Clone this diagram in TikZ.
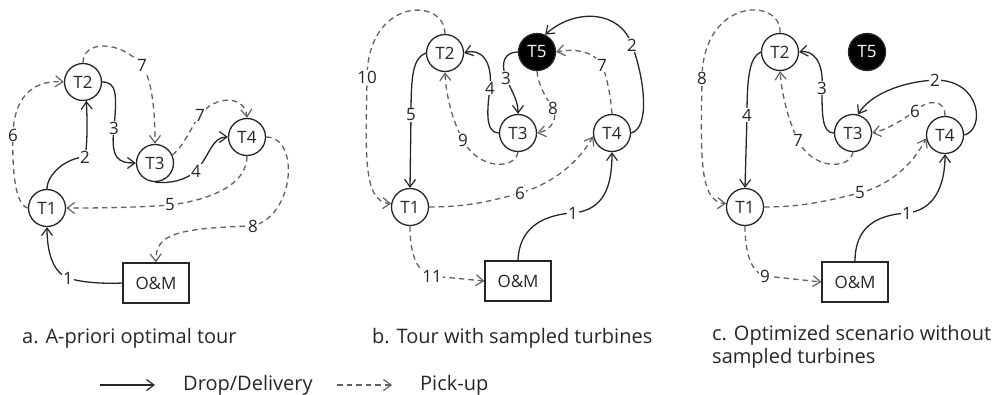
\documentclass[tikz,border=0pt]{standalone}
\usepackage{fontspec}
\setmainfont{Open Sans}
\usetikzlibrary{arrows.meta}
\begin{document}
\begin{tikzpicture}[x=1pt,y=-1pt,
  tn/.style={circle,draw=black!85,line width=1.3pt,minimum size=37pt,inner sep=0pt,font=\fontsize{17}{19}\selectfont,text=black!85},
  tb/.style={tn,fill=black,text=white},
  om/.style={draw=black!85,line width=1.3pt,minimum width=66pt,minimum height=40pt,inner sep=0pt,font=\fontsize{17}{19}\selectfont,text=black!85},
  lb/.style={fill=white,inner sep=1pt,font=\fontsize{17}{19}\selectfont,text=black!85},
  captxt/.style={anchor=base west,inner sep=0pt,font=\fontsize{20}{24}\selectfont,text=black!85},
  tip/.style={-{Straight Barb[length=7.5pt,width=11pt,line width=1.2pt]}},
  sa/.style={draw=black!85,line width=1.3pt,tip},
  da/.style={draw=black!62,line width=1.3pt,dash pattern=on 5.5pt off 4pt,tip}
]
\useasboundingbox (0,0) rectangle (995,394);
% ---------- panel a ----------
\node[tn] (a1) at (47,208) {T1};
\node[tn] (a2) at (83,82) {T2};
\node[tn] (a3) at (155,163) {T3};
\node[tn] (a4) at (247,137) {T4};
\node[om] (aom) at (156,283) {O\&M};
\draw[sa] (aom.west) .. controls (100,284) and (80,282) .. (68,278) node[lb]{1} .. controls (52,272) and (47,250) .. (a1.south);
\draw[sa] (a1.north) .. controls (47,175) and (65,158) .. (85,157) node[lb]{2} .. controls (88,140) and (87,115) .. (a2.-80);
\draw[sa] (a2.east) .. controls (117,82) and (117,95) .. (114,128) node[lb]{3} .. controls (110,160) and (120,163) .. (a3.west);
\draw[sa] (a3.south) .. controls (170,184) and (186,180) .. (196,171) node[lb]{4} .. controls (210,155) and (212,137) .. (a4.west);
\draw[da] (a4.south) .. controls (247,185) and (210,200) .. (170,205) node[lb]{5} .. controls (130,208) and (90,208) .. (a1.east);
\draw[da] (a1.west) .. controls (15,205) and (12,170) .. (13,135) node[lb]{6} .. controls (14,90) and (40,80) .. (a2.west);
\draw[da] (a2.north) .. controls (83,40) and (120,40) .. (142,65) node[lb]{7} .. controls (152,80) and (155,110) .. (a3.north);
\draw[da] (a3.25) .. controls (185,145) and (192,125) .. (200,115) node[lb]{7} .. controls (215,95) and (245,95) .. (a4.north);
\draw[da] (a4.east) .. controls (300,137) and (295,215) .. (253,226) node[lb]{8} .. controls (175,228) and (155,235) .. (aom.north);
% ---------- panel b ----------
\node[tn] (b1) at (410,207) {T1};
\node[tn] (b2) at (445,53) {T2};
\node[tb] (b5) at (537,52) {T5};
\node[tn] (b3) at (518,133) {T3};
\node[tn] (b4) at (612,133) {T4};
\node[om] (bom) at (518,281) {O\&M};
\draw[sa] (bom.north) .. controls (519,230) and (540,215) .. (573,213) node[lb]{1} .. controls (605,210) and (612,185) .. (b4.south);
\draw[sa] (b4.east) .. controls (650,128) and (645,80) .. (632,45) node[lb]{2} .. controls (620,10) and (575,8) .. (b5.65);
\draw[sa] (b5.west) .. controls (505,52) and (500,62) .. (506,78) node[lb]{3} .. controls (512,92) and (518,100) .. (b3.north);
\draw[sa] (b3.west) .. controls (485,133) and (487,110) .. (490,88) node[lb]{4} .. controls (493,60) and (480,48) .. (b2.east);
\draw[sa] (b2.west) .. controls (413,58) and (411,75) .. (411,115) node[lb]{5} -- (b1.north);
\draw[da] (b1.east) .. controls (470,207) and (495,200) .. (520,193) node[lb]{6} .. controls (555,183) and (580,160) .. (b4.190);
\draw[da] (b4.north) .. controls (611,100) and (608,80) .. (602,65) node[lb]{7} .. controls (595,52) and (575,48) .. (b5.east);
\draw[da] (b5.south) .. controls (538,85) and (546,98) .. (553,108) node[lb]{8} .. controls (558,118) and (552,130) .. (b3.east);
\draw[da] (b3.south) .. controls (515,170) and (478,170) .. (463,140) node[lb]{9} .. controls (452,120) and (446,95) .. (b2.south);
\draw[da] (b2.north) .. controls (445,-3) and (368,-3) .. (367,77) node[lb]{10} .. controls (366,150) and (362,202) .. (b1.170);
\draw[da] (b1.south) .. controls (410,250) and (415,272) .. (432,276) node[lb]{11} -- (bom.west);
% ---------- panel c ----------
\node[tn] (c1) at (745,207) {T1};
\node[tn] (c2) at (780,52) {T2};
\node[tb] (c5) at (867,52) {T5};
\node[tn] (c3) at (853,133) {T3};
\node[tn] (c4) at (945,135) {T4};
\node[om] (com) at (855,282) {O\&M};
\draw[sa] (com.north) .. controls (855,228) and (875,215) .. (907,213) node[lb]{1} .. controls (935,210) and (945,185) .. (c4.south);
\draw[sa] (c4.east) .. controls (985,130) and (982,80) .. (935,80) node[lb]{2} .. controls (900,82) and (870,95) .. (c3.75);
\draw[sa] (c3.west) .. controls (822,133) and (822,115) .. (822,88) node[lb]{3} .. controls (824,60) and (812,50) .. (c2.east);
\draw[sa] (c2.west) .. controls (750,57) and (747,75) .. (747,115) node[lb]{4} -- (c1.north);
\draw[da] (c1.east) .. controls (805,207) and (830,200) .. (860,193) node[lb]{5} .. controls (895,183) and (915,160) .. (c4.190);
\draw[da] (c4.north) .. controls (945,100) and (930,98) .. (915,111) node[lb]{6} .. controls (900,122) and (885,130) .. (c3.east);
\draw[da] (c3.south) .. controls (850,170) and (812,170) .. (798,140) node[lb]{7} .. controls (788,120) and (782,95) .. (c2.south);
\draw[da] (c2.north) .. controls (782,-3) and (703,-3) .. (702,78) node[lb]{8} .. controls (701,150) and (698,202) .. (c1.170);
\draw[da] (c1.south) .. controls (745,250) and (750,272) .. (765,276) node[lb]{9} -- (com.west);
% ---------- captions ----------
\node[captxt] (capa) at (22,343) {a. A-priori optimal tour};
\node[captxt] (capb) at (372,343) {b. Tour with sampled turbines};
\node[captxt] (capc1) at (712,340) {c. Optimized scenario without};
\node[captxt] (capc2) at (712,363) {sampled turbines};
% ---------- legend ----------
\coordinate (ls1) at (100,385);
\coordinate (ls2) at (155,385);
\coordinate (ld1) at (337,385);
\coordinate (ld2) at (392,385);
\draw[sa] (ls1) -- (ls2);
\node[captxt] (lsd) at (183,390) {Drop/Delivery};
\draw[da] (ld1) -- (ld2);
\node[captxt] (ldp) at (420,390) {Pick-up};
\end{tikzpicture}
\end{document}
